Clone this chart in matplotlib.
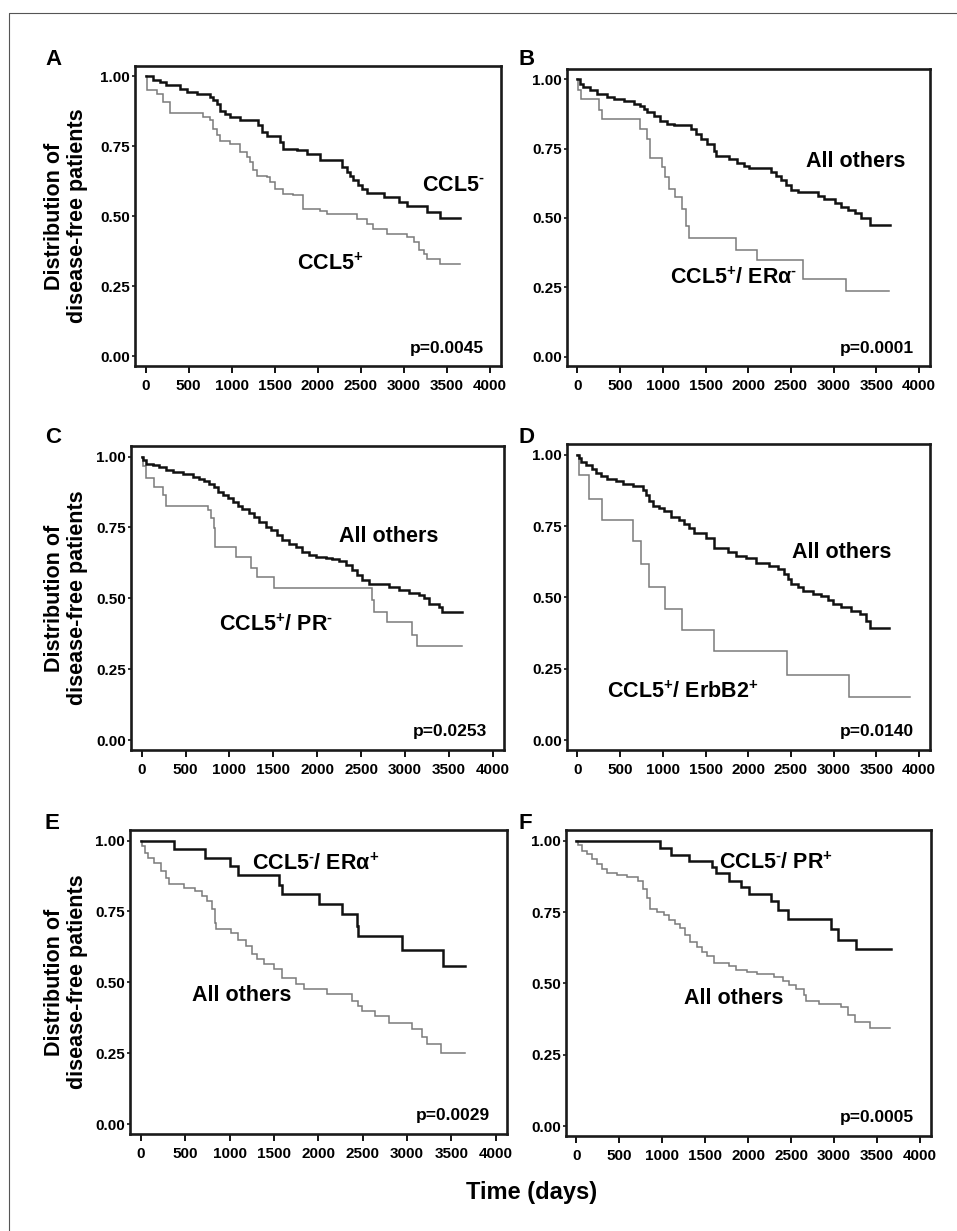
import matplotlib
matplotlib.use("Agg")
import matplotlib.pyplot as plt
from matplotlib.lines import Line2D

plt.rcParams["font.family"] = ["Liberation Sans", "DejaVu Sans"]
plt.rcParams["font.weight"] = "bold"
plt.rcParams["mathtext.fontset"] = "custom"
plt.rcParams["mathtext.rm"] = "Liberation Sans:bold"
plt.rcParams["mathtext.it"] = "Liberation Sans:bold"
plt.rcParams["mathtext.bf"] = "Liberation Sans:bold"

W, H = 957, 1231

# ---- data: Kaplan-Meier step curves (time of drop in days, survival after drop)
a_neg_t = [0, 89, 167, 233, 399, 477, 593, 748, 787, 826, 864, 922, 981, 1097, 1310, 1349, 1407,
           1562, 1601, 1756, 1872, 2027, 2279, 2337, 2376, 2415, 2473, 2512, 2570, 2764, 2938, 3035,
           3267, 3423]
a_neg_s = [1.0, .988, .98, .968, .956, .944, .938, .926, .914, .902, .878, .867, .855, .843, .825, .80,
           .786, .765, .742, .736, .724, .70, .676, .658, .646, .629, .611, .599, .583, .569, .551,
           .536, .515, .496]
a_neg_end = 3655
a_pos_t = [0, 12, 128, 205, 283, 671, 748, 787, 826, 864, 981, 1097, 1174, 1213, 1252, 1291, 1407,
           1446, 1504, 1601, 1717, 1833, 2027, 2105, 2454, 2570, 2647, 2802, 3035, 3112, 3171, 3229,
           3267, 3423]
a_pos_s = [1.0, .95, .938, .908, .869, .855, .843, .813, .789, .771, .76, .73, .712, .694, .664, .646,
           .64, .623, .599, .581, .575, .527, .521, .51, .492, .474, .456, .438, .426, .408, .379,
           .367, .349, .331]
a_pos_end = 3655

b_oth_t = [0, 31, 71, 149, 227, 345, 423, 541, 658, 737, 776, 815, 894, 972, 1050, 1129, 1325, 1383,
           1442, 1521, 1599, 1619, 1775, 1873, 1952, 2010, 2265, 2324, 2383, 2442, 2500, 2579, 2814,
           2892, 3010, 3088, 3167, 3245, 3323, 3421]
b_oth_s = [1.0, .984, .972, .96, .948, .936, .93, .921, .912, .903, .894, .882, .867, .851, .839, .836,
           .821, .803, .785, .767, .743, .725, .713, .698, .688, .679, .664, .652, .638, .618, .601,
           .592, .58, .568, .553, .541, .529, .517, .498, .475]
b_oth_end = 3656
b_pos_t = [0, 12, 39, 247, 286, 737, 815, 854, 992, 1031, 1070, 1148, 1227, 1266, 1305, 1854, 2108,
           2637, 3147]
b_pos_s = [1.0, .96, .93, .888, .857, .821, .785, .715, .682, .646, .604, .574, .531, .471, .426, .386,
           .35, .278, .236]
b_pos_end = 3645

c_oth_t = [0, 19, 49, 125, 201, 277, 352, 466, 580, 656, 713, 769, 826, 864, 921, 978, 1035, 1092,
           1148, 1224, 1281, 1338, 1414, 1471, 1546, 1603, 1679, 1755, 1831, 1906, 1982, 2096, 2172,
           2247, 2323, 2399, 2456, 2513, 2589, 2816, 2930, 3043, 3157, 3214, 3271, 3384, 3422]
c_oth_s = [1.0, .988, .974, .971, .962, .953, .945, .938, .927, .92, .912, .902, .891, .876, .865, .853,
           .838, .826, .814, .802, .786, .771, .753, .741, .724, .706, .692, .68, .665, .653, .647,
           .641, .638, .633, .618, .60, .582, .565, .551, .541, .529, .518, .512, .50, .482, .471, .451]
c_oth_end = 3650
c_pos_t = [0, 19, 49, 144, 239, 277, 750, 788, 826, 838, 1073, 1243, 1319, 1508, 2626, 2645, 2797,
           3081, 3138]
c_pos_s = [1.0, .965, .924, .894, .865, .824, .812, .782, .747, .682, .645, .606, .574, .538, .494,
           .453, .418, .371, .332]
c_pos_end = 3650

d_oth_t = [0, 20, 39, 98, 176, 215, 274, 352, 450, 528, 645, 762, 801, 840, 880, 958, 1016, 1095, 1192,
           1251, 1310, 1368, 1505, 1603, 1759, 1857, 1974, 2091, 2248, 2345, 2424, 2463, 2502, 2580,
           2639, 2756, 2854, 2932, 2990, 3088, 3205, 3303, 3381, 3420]
d_oth_s = [1.0, .988, .974, .963, .951, .936, .924, .916, .907, .898, .891, .877, .86, .838, .82, .814,
           .802, .781, .77, .756, .742, .727, .709, .674, .66, .645, .637, .622, .61, .599, .581, .564,
           .547, .535, .521, .512, .506, .491, .477, .465, .453, .442, .419, .393]
d_oth_end = 3647
d_pos_t = [0, 20, 137, 293, 653, 743, 833, 1028, 1224, 1603, 2451, 3178]
d_pos_s = [1.0, .93, .843, .771, .698, .616, .538, .459, .387, .312, .23, .153]
d_pos_end = 3889

e_neg_t = [0, 375, 724, 1000, 1099, 1562, 1588, 2011, 2268, 2434, 2452, 2948, 3408]
e_neg_s = [1.0, .969, .94, .909, .88, .844, .812, .777, .742, .698, .663, .613, .558]
e_neg_end = 3658
e_oth_t = [0, 18, 44, 81, 154, 228, 283, 320, 485, 614, 687, 743, 798, 834, 853, 1018, 1092, 1184,
           1257, 1312, 1386, 1496, 1588, 1753, 1845, 2103, 2378, 2452, 2489, 2636, 2801, 3058, 3169,
           3224, 3389]
e_oth_s = [1.0, .979, .956, .938, .92, .891, .868, .847, .833, .821, .804, .786, .757, .71, .687, .675,
           .651, .628, .599, .581, .564, .546, .517, .494, .476, .458, .435, .418, .40, .382, .356,
           .336, .307, .283, .25]
e_oth_end = 3658

f_neg_t = [0, 976, 1100, 1307, 1580, 1619, 1775, 1912, 2010, 2263, 2341, 2458, 2966, 3044, 3258]
f_neg_s = [1.0, .974, .951, .928, .907, .886, .86, .837, .812, .788, .758, .727, .692, .653, .619]
f_neg_end = 3660
f_oth_t = [0, 20, 59, 117, 176, 234, 293, 351, 468, 585, 722, 780, 819, 858, 936, 1015, 1073, 1151,
           1210, 1268, 1327, 1405, 1463, 1522, 1600, 1775, 1853, 1990, 2107, 2302, 2400, 2478, 2556,
           2653, 2673, 2829, 3083, 3161, 3239, 3414]
f_oth_s = [1.0, .983, .965, .953, .936, .919, .901, .886, .878, .872, .86, .831, .80, .762, .75, .738,
           .721, .709, .695, .669, .645, .628, .61, .595, .572, .56, .547, .541, .533, .523, .509,
           .494, .479, .459, .44, .428, .416, .39, .366, .343]
f_oth_end = 3648

panel_letters = ["A", "B", "C", "D", "E", "F"]
p_values = ["p=0.0045", "p=0.0001", "p=0.0253", "p=0.0140", "p=0.0029", "p=0.0005"]
x_ticks = [0, 500, 1000, 1500, 2000, 2500, 3000, 3500, 4000]
y_ticks = [0.0, 0.25, 0.5, 0.75, 1.0]

# axes boxes in pixels: left, top, right, bottom
boxes = [(135, 66, 501, 366), (567, 69, 930, 366),
         (131, 446, 504, 750), (567, 444, 930, 750),
         (130, 830, 507, 1134), (566, 830, 931, 1136)]

NEG = r"$^{\text{-}}$"
POS = r"$^{+}$"

panels = [
    dict(black=(a_neg_t, a_neg_s, a_neg_end), gray=(a_pos_t, a_pos_s, a_pos_end),
         labels=[("CCL5" + NEG, 3209, 0.61), ("CCL5" + POS, 1756, 0.33)]),
    dict(black=(b_oth_t, b_oth_s, b_oth_end), gray=(b_pos_t, b_pos_s, b_pos_end),
         labels=[("All others", 2674, 0.703), ("CCL5" + POS + "/ ERα" + NEG, 1081, 0.283)]),
    dict(black=(c_oth_t, c_oth_s, c_oth_end), gray=(c_pos_t, c_pos_s, c_pos_end),
         labels=[("All others", 2250, 0.717), ("CCL5" + POS + "/ PR" + NEG, 886, 0.406)]),
    dict(black=(d_oth_t, d_oth_s, d_oth_end), gray=(d_pos_t, d_pos_s, d_pos_end),
         labels=[("All others", 2509, 0.657), ("CCL5" + POS + "/ ErbB2" + POS, 352, 0.168)]),
    dict(black=(e_neg_t, e_neg_s, e_neg_end), gray=(e_oth_t, e_oth_s, e_oth_end),
         labels=[("CCL5" + NEG + "/ ERα" + POS, 1257, 0.916), ("All others", 573, 0.453)]),
    dict(black=(f_neg_t, f_neg_s, f_neg_end), gray=(f_oth_t, f_oth_s, f_oth_end),
         labels=[("CCL5" + NEG + "/ PR" + POS, 1663, 0.92), ("All others", 1253, 0.449)]),
]

fig = plt.figure(figsize=(W / 100, H / 100), dpi=100)


def draw_curve(ax, curve, color, lw):
    t, s, end = curve
    ax.step(list(t) + [end], list(s) + [s[-1]], where="post", color=color, lw=lw,
            solid_joinstyle="miter")


for i, (box, panel) in enumerate(zip(boxes, panels)):
    l, t, r, b = box
    ax = fig.add_axes([l / W, 1 - b / H, (r - l) / W, (b - t) / H])
    draw_curve(ax, panel["gray"], "#7a7a7a", 1.1)
    draw_curve(ax, panel["black"], "#111111", 1.8)
    for text, x, y in panel["labels"]:
        ax.text(x, y, text, fontsize=15.5, fontweight="bold", ha="left", va="center")
    ax.text(3935, 0.03, p_values[i], fontsize=12.5, fontweight="bold", ha="right", va="center")

    ax.set_xlim(-122, 4128)
    ax.set_ylim(-0.034, 1.037)
    ax.set_xticks(x_ticks)
    ax.set_xticklabels([str(v) for v in x_ticks])
    ax.set_yticks(y_ticks)
    ax.set_yticklabels(["%.2f" % v for v in y_ticks])
    ax.tick_params(axis="x", direction="out", length=5, width=1.3, pad=4, labelsize=11)
    ax.tick_params(axis="y", direction="out", length=2.5, width=1.1, pad=1, labelsize=11)
    for sp in ax.spines.values():
        sp.set_linewidth(1.9)
        sp.set_color("#1a1a1a")

    # panel letter
    lx = 45 if i % 2 == 0 else 519
    ly = [65, 443, 829][i // 2]
    fig.text(lx / W, 1 - ly / H, panel_letters[i], fontsize=16, fontweight="bold",
             ha="left", va="baseline")

    if i % 2 == 0:
        fig.text(66 / W, 1 - ((t + b) / 2) / H, "Distribution of\ndisease-free patients",
                 rotation=90, fontsize=15.5, fontweight="bold", ha="center", va="center",
                 linespacing=1.1, multialignment="center")

fig.text(532 / W, 1 - 1192 / H, "Time (days)", fontsize=17, fontweight="bold",
         ha="center", va="center")

# outer frame (open at right and bottom)
fig.add_artist(Line2D([9 / W, 9 / W, 1.0], [0.0, 1 - 13 / H, 1 - 13 / H],
                      transform=fig.transFigure, color="#555555", lw=0.8))

fig.savefig("out.png", dpi=100)
